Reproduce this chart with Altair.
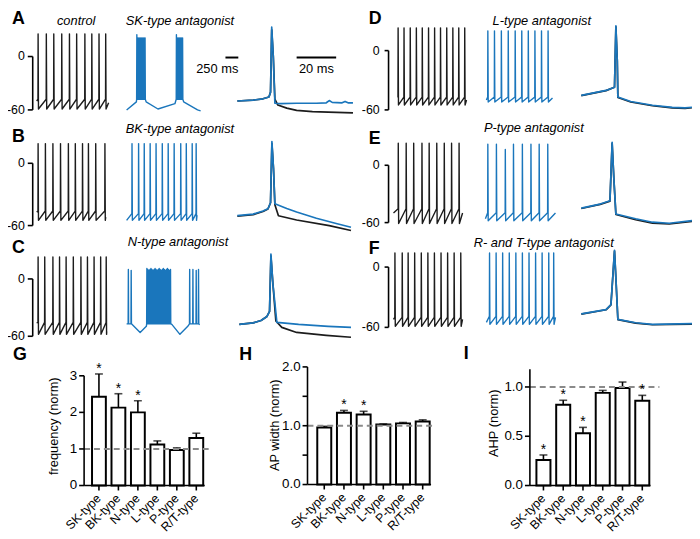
import altair as alt
import pandas as pd

# ---------------- bar-chart data ----------------
CATS = ["SK-type", "BK-type", "N-type", "L-type", "P-type", "R/T-type"]
FREQ_MEAN = [2.43, 2.13, 2.00, 1.12, 0.97, 1.30]
FREQ_SEM = [0.62, 0.38, 0.32, 0.10, 0.06, 0.13]
FREQ_SIG = [1, 1, 1, 0, 0, 0]
WIDTH_MEAN = [0.97, 1.22, 1.19, 1.02, 1.04, 1.07]
WIDTH_SEM = [0.02, 0.04, 0.055, 0.01, 0.015, 0.03]
WIDTH_SIG = [0, 1, 1, 0, 0, 0]
AHP_MEAN = [0.26, 0.82, 0.53, 0.94, 0.99, 0.86]
AHP_SEM = [0.05, 0.045, 0.06, 0.025, 0.06, 0.055]
AHP_SIG = [1, 1, 1, 0, 0, 1]

# ---------------- long voltage traces (ms, mV) ----------------
# levels = [peak, threshold kink, trough, start, end]
A_CTRL_SPIKES = [25, 185, 330, 485, 635, 775, 935, 1070, 1210, 1340]
A_CTRL_DUR = 1400
A_CTRL_LEV = [25.5, -48, -59, -50, -52]

A_SK_BASE_T = [0, 190, 380, 610, 940, 1110, 1380, 1440]
A_SK_BASE_V = [-60, -51, -51, -59, -53, -51, -60, -61]
A_SK_BURST1 = [195, 215, 235, 255, 275, 295, 315, 335, 355]
A_SK_PEAKS1 = [24.5, 21, 21, 21, 21, 21, 21, 21, 21]
A_SK_BURST2 = [965, 985, 1005, 1025, 1045, 1065, 1085]
A_SK_PEAKS2 = [24.5, 21, 21, 21, 21, 21, 21]
A_SK_LOW = -48

B_CTRL_SPIKES = [25, 167, 313, 461, 614, 749, 889, 1004, 1146, 1325]
B_CTRL_DUR = 1344
B_CTRL_LEV = [19, -46, -55, -47, -52]
B_BK_SPIKES = [102, 230, 340, 455, 570, 691, 806, 922, 1050, 1158, 1273, 1350]
B_BK_DUR = 1370
B_BK_LEV = [19, -48.5, -55, -55, -50]

C_CTRL_SPIKES = [25, 154, 313, 442, 570, 710, 858, 985, 1114, 1242, 1350]
C_CTRL_DUR = 1363
C_CTRL_LEV = [23, -45.5, -58, -46, -55]
C_N_BASE_T = [0, 263, 384, 880, 1037, 1190, 1421]
C_N_BASE_V = [-47, -56, -49.6, -47.6, -58, -49.6, -48]
C_N_EARLY = [30, 85]
C_N_EARLY_PK = [10, 9]
C_N_BLOCK = [390, 410, 430, 450, 470, 490, 510, 530, 550, 570, 590, 610,
             630, 650, 670, 690, 710, 730, 750, 770, 790, 810, 830, 850]
C_N_BLOCK_PK = [11, 10, 9, 10, 11, 10, 9, 10, 11, 10, 9, 10,
                11, 10, 9, 10, 11, 10, 9, 10, 11, 10, 9, 10]
C_N_LATE = [1223, 1286, 1350, 1395]
C_N_LATE_PK = [10, 10, 9, 10]
C_N_LOW = -47

D_CTRL_SPIKES = [10, 125, 246, 365, 480, 602, 720, 835, 956, 1075, 1190, 1306]
D_CTRL_DUR = 1344
D_CTRL_LEV = [23, -47, -55, -47, -50]
D_L_SPIKES = [25, 154, 288, 422, 557, 685, 812, 941, 1069, 1197]
D_L_DUR = 1286
D_L_LEV = [20, -47, -52, -50, -48]

E_CTRL_SPIKES = [90, 244, 390, 551, 691, 839, 985, 1127, 1273]
E_CTRL_DUR = 1344
E_CTRL_LEV = [23, -45.5, -61, -50, -50]
E_P_SPIKES = [44, 211, 384, 543, 716, 883, 1043, 1210]
E_P_PEAKS = [22, 22, 16.5, 22, 22, 22, 22, 22]
E_P_DUR = 1363
E_P_LEV = [22, -49.6, -58, -56, -50]

F_CTRL_SPIKES = [25, 167, 282, 409, 538, 666, 793, 922, 1050, 1177, 1306]
F_CTRL_DUR = 1344
F_CTRL_LEV = [14, -50, -59, -52, -52]
F_RT_SPIKES = [58, 186, 313, 442, 570, 697, 826, 954, 1081, 1210, 1306]
F_RT_DUR = 1344
F_RT_LEV = [14, -49, -57, -55, -50]

# ---------------- single-spike overlays (ms, mV) ----------------
A_Z_CTRL_T = [0, 8, 13, 16, 16.8, 17.4, 18.2, 19, 20.5, 25, 30, 38, 46, 58.5]
A_Z_CTRL_V = [-50, -49, -47.5, -45.5, -40, 30, 0, -48, -54.5, -58, -60.5, -62, -62.5, -63.3]
A_Z_DRUG_T = [0, 8, 13, 16, 16.8, 17.4, 18.2, 19, 22, 30, 40, 45, 46.5, 48, 53, 54.5, 56, 58.5]
A_Z_DRUG_V = [-50, -49, -47.5, -45.5, -40, 33, 0, -52.5, -53, -52.5, -52.5, -52, -49.5, -51.5, -52, -50.5, -52, -52]

B_Z_CTRL_T = [0, 8, 13, 15.5, 16.8, 17.5, 18.3, 19, 20.8, 30, 46.5, 57.5]
B_Z_CTRL_V = [-51, -49.5, -46.5, -44, -38, 19, -5, -40, -50.5, -54.6, -60, -64.8]
B_Z_DRUG_T = [0, 8, 13, 15.5, 16.8, 17.5, 18.3, 19, 25, 30, 40, 50, 57.5]
B_Z_DRUG_V = [-50.5, -49, -46, -43.8, -38, 21, -5, -39, -43.5, -47, -53, -58, -61.6]

C_Z_CTRL_T = [0, 7, 11, 14, 15.3, 16, 17, 18.5, 21.5, 29, 44, 56.5]
C_Z_CTRL_V = [-47.6, -46, -43.5, -39.3, -34, 24, -5, -44, -50.7, -56, -59, -61]
C_Z_DRUG_T = [0, 7, 11, 14, 15.3, 16, 17, 19, 30, 45, 56.5]
C_Z_DRUG_V = [-47.6, -46, -43.5, -39.3, -34, 26, -5, -45.5, -47.6, -49.6, -50.7]

D_Z_T = [0, 12.5, 16.8, 17.5, 18.2, 18.5, 25, 36, 46, 52.5, 56]
D_Z_CTRL_V = [-45.5, -40.5, -37, 24, -10, -47.5, -52, -55.8, -58, -58.5, -57.8]
D_Z_DRUG_V = [-45.3, -40.3, -37, 25, -10, -47, -51.5, -55.3, -57.5, -58, -57.3]

E_Z_T = [0, 9.5, 14.5, 15.6, 16.5, 17.5, 27.5, 36, 44.5, 56]
E_Z_CTRL_V = [-45.2, -41, -37.5, 23, -15, -51.5, -57, -60.5, -61.5, -58.8]
E_Z_DRUG_V = [-44.8, -40.6, -37.2, 24, -15, -51, -56, -59.6, -60.7, -58]

F_Z_T = [0, 12.5, 15, 16.8, 17.6, 18.5, 27.5, 36, 56]
F_Z_CTRL_V = [-46.8, -42.5, -37.6, 16, -15, -52.3, -55.8, -57.4, -56.7]
F_Z_DRUG_V = [-46.5, -42.3, -37.4, 16.7, -15, -52, -55.4, -57, -56.3]

# ---------------- layout / style ----------------
OFF = 8
MS_PER_PX = 250 / 13
BLACK = "#1c1c1c"
BLUE = "#1a76bc"
FONT = "Liberation Sans"
# pixel rows of the 0 mV and -60 mV bracket ticks
ROWS = {"A": (54, 108), "B": (162, 225), "C": (279, 337),
        "D": (48, 108), "E": (164, 222), "F": (267, 328)}
ONE = pd.DataFrame({"k": [0]})


def P(v):
    return v - OFF


def yscale(row):
    y0, y60 = ROWS[row]
    return alt.Scale(domain=[-60, 0], range=[P(y60), P(y0)])


def train_points(spikes, dur, lev, peaks=None):
    peak, kink, trough, v0, vend = lev
    t, v = [0], [v0]
    for k, s in enumerate(spikes):
        pk = peaks[k] if peaks is not None else peak
        t += [s, s + 3, s + 10]
        v += [kink, pk, trough]
    t.append(dur)
    v.append(vend)
    return t, v


def burst_points(base_t, base_v, groups, low):
    pts = list(zip(base_t, base_v))
    for spikes, peaks in groups:
        for s, pk in zip(spikes, peaks):
            pts += [(s, low), (s + 4, pk), (s + 9, low)]
    pts.sort()
    return [p[0] for p in pts], [p[1] for p in pts]


def line(t, v, color, xs, ys, width):
    df = pd.DataFrame({"t": t, "v": v, "i": list(range(len(t)))})
    return alt.Chart(df).mark_line(color=color, strokeWidth=width, strokeJoin="round").encode(
        x=alt.X("t:Q", scale=xs, axis=None),
        y=alt.Y("v:Q", scale=ys, axis=None),
        order="i:Q",
    )


def long_trace(tv, x0, row, color):
    t, v = tv
    dur = t[-1]
    xs = alt.Scale(domain=[0, dur], range=[P(x0), P(x0 + dur / MS_PER_PX)])
    return line(t, v, color, xs, yscale(row), 1.4)


def overlay(row, x0, x1, t_ctrl, v_ctrl, t_drug, v_drug):
    dmax = max(t_ctrl[-1], t_drug[-1])
    xs = alt.Scale(domain=[0, dmax], range=[P(x0), P(x1)])
    ys = yscale(row)
    return alt.layer(line(t_ctrl, v_ctrl, BLACK, xs, ys, 1.7),
                     line(t_drug, v_drug, BLUE, xs, ys, 1.7))


def bracket(row, xv, xt, xl):
    ys = yscale(row)
    d = pd.DataFrame({"v": [0, -60], "lab": ["0", "-60"]})
    seg = pd.DataFrame({"a": [-60], "b": [0]})
    vline = alt.Chart(seg).mark_rule(color="black", strokeWidth=1.6).encode(
        x=alt.value(P(xv)), y=alt.Y("a:Q", scale=ys, axis=None), y2="b:Q")
    ticks = alt.Chart(d).mark_rule(color="black", strokeWidth=1.6).encode(
        x=alt.value(P(xt)), x2=alt.value(P(xv)), y=alt.Y("v:Q", scale=ys, axis=None))
    labs = alt.Chart(d).mark_text(align="right", baseline="middle", fontSize=12.5, font=FONT,
                                  color="black").encode(
        x=alt.value(P(xl)), y=alt.Y("v:Q", scale=ys, axis=None), text="lab:N")
    return alt.layer(vline, ticks, labs)


def label(s, x, y, size=13, weight="normal", style="normal", align="center",
          baseline="middle", angle=0):
    kw = dict(text=s, fontSize=size, font=FONT, fontWeight=weight, fontStyle=style,
              align=align, baseline=baseline, color="black")
    if angle:
        kw["angle"] = angle
    return alt.Chart(ONE).mark_text(**kw).encode(x=alt.value(P(x)), y=alt.value(P(y)))


def scalebar(length, x0, px, y, text, tx, talign):
    d = pd.DataFrame({"a": [0], "b": [length]})
    xs = alt.Scale(domain=[0, length], range=[P(x0), P(x0 + px)])
    bar = alt.Chart(d).mark_rule(color="black", strokeWidth=2).encode(
        x=alt.X("a:Q", scale=xs, axis=None), x2="b:Q", y=alt.value(P(y)))
    return alt.layer(bar, label(text, tx, y + 12, size=13, align=talign))


def bar_panel(means, sems, sigs, ydom, ypix, xpix, ax_x, ax_xend, ytop,
              tick_vals, lab_vals, lab_txt, dash_end, title, tpos):
    df = pd.DataFrame({"cat": CATS, "mean": means,
                       "top": [m + s for m, s in zip(means, sems)], "sig": sigs})
    xs = alt.Scale(domain=CATS, range=[P(xpix[0]), P(xpix[1])],
                   paddingInner=0.29, paddingOuter=0.145)
    ys = alt.Scale(domain=ydom, range=[P(ypix[0]), P(ypix[1])])
    X = alt.X("cat:N", scale=xs, axis=None, sort=CATS)
    base = alt.Chart(df)
    bars = base.mark_bar(fill="white", stroke="black", strokeWidth=2).encode(
        x=X, y=alt.Y("mean:Q", scale=ys, axis=None))
    err = base.mark_rule(color="black", strokeWidth=1.6).encode(
        x=X, y=alt.Y("mean:Q", scale=ys, axis=None), y2="top:Q")
    cap = base.mark_tick(color="black", thickness=1.6, size=8).encode(
        x=X, y=alt.Y("top:Q", scale=ys, axis=None))
    stars = base.transform_filter("datum.sig == 1").mark_text(
        text="*", fontSize=14, font=FONT, baseline="alphabetic", dy=-1, color="black").encode(
        x=X, y=alt.Y("top:Q", scale=ys, axis=None))
    dash = alt.Chart(pd.DataFrame({"r": [1]})).mark_rule(
        strokeDash=[6, 4], color="#8a8a8a", strokeWidth=2).encode(
        x=alt.value(P(ax_x)), x2=alt.value(P(dash_end)), y=alt.Y("r:Q", scale=ys, axis=None))
    yline = alt.Chart(pd.DataFrame({"a": [ydom[0]], "b": [ytop]})).mark_rule(
        color="black", strokeWidth=1.6).encode(
        x=alt.value(P(ax_x)), y=alt.Y("a:Q", scale=ys, axis=None), y2="b:Q")
    yt = alt.Chart(pd.DataFrame({"v": tick_vals})).mark_rule(color="black", strokeWidth=1.6).encode(
        x=alt.value(P(ax_x - 5)), x2=alt.value(P(ax_x)), y=alt.Y("v:Q", scale=ys, axis=None))
    yl = alt.Chart(pd.DataFrame({"v": lab_vals, "t": lab_txt})).mark_text(
        align="right", baseline="middle", fontSize=13.5, font=FONT, color="black").encode(
        x=alt.value(P(ax_x - 7)), y=alt.Y("v:Q", scale=ys, axis=None), text="t:N")
    xline = alt.Chart(pd.DataFrame({"z": [0]})).mark_rule(color="black", strokeWidth=1.6).encode(
        x=alt.value(P(ax_x)), x2=alt.value(P(ax_xend)), y=alt.Y("z:Q", scale=ys, axis=None))
    xt = base.mark_rule(color="black", strokeWidth=1.6).encode(
        x=X, y=alt.value(P(ypix[0])), y2=alt.value(P(ypix[0] + 5)))
    xl = base.mark_text(angle=315, align="right", baseline="middle", fontSize=12.5,
                        font=FONT, color="black").encode(
        x=X, y=alt.value(P(ypix[0] + 11)), text="cat:N")
    ttl = label(title, tpos[0], tpos[1], size=13, angle=270)
    return alt.layer(bars, err, cap, dash, yline, yt, yl, xline, xt, xl, stars, ttl)


layers = []

# ----- brackets -----
for r in ["A", "B", "C"]:
    layers.append(bracket(r, 33, 28, 25))
for r in ["D", "E", "F"]:
    layers.append(bracket(r, 393, 389, 384))

# ----- long traces -----
layers.append(long_trace(train_points(A_CTRL_SPIKES, A_CTRL_DUR, A_CTRL_LEV), 37, "A", BLACK))
layers.append(long_trace(burst_points(A_SK_BASE_T, A_SK_BASE_V,
                                      [(A_SK_BURST1, A_SK_PEAKS1), (A_SK_BURST2, A_SK_PEAKS2)],
                                      A_SK_LOW), 128, "A", BLUE))
layers.append(long_trace(train_points(B_CTRL_SPIKES, B_CTRL_DUR, B_CTRL_LEV), 37, "B", BLACK))
layers.append(long_trace(train_points(B_BK_SPIKES, B_BK_DUR, B_BK_LEV), 128, "B", BLUE))
layers.append(long_trace(train_points(C_CTRL_SPIKES, C_CTRL_DUR, C_CTRL_LEV), 37, "C", BLACK))
layers.append(long_trace(burst_points(C_N_BASE_T, C_N_BASE_V,
                                      [(C_N_EARLY, C_N_EARLY_PK), (C_N_BLOCK, C_N_BLOCK_PK),
                                       (C_N_LATE, C_N_LATE_PK)], C_N_LOW), 128, "C", BLUE))
layers.append(long_trace(train_points(D_CTRL_SPIKES, D_CTRL_DUR, D_CTRL_LEV), 402, "D", BLACK))
layers.append(long_trace(train_points(D_L_SPIKES, D_L_DUR, D_L_LEV), 492, "D", BLUE))
layers.append(long_trace(train_points(E_CTRL_SPIKES, E_CTRL_DUR, E_CTRL_LEV), 398, "E", BLACK))
layers.append(long_trace(train_points(E_P_SPIKES, E_P_DUR, E_P_LEV, E_P_PEAKS), 491, "E", BLUE))
layers.append(long_trace(train_points(F_CTRL_SPIKES, F_CTRL_DUR, F_CTRL_LEV), 398, "F", BLACK))
layers.append(long_trace(train_points(F_RT_SPIKES, F_RT_DUR, F_RT_LEV), 492, "F", BLUE))

# ----- overlays -----
layers.append(overlay("A", 240, 357, A_Z_CTRL_T, A_Z_CTRL_V, A_Z_DRUG_T, A_Z_DRUG_V))
layers.append(overlay("B", 240, 355, B_Z_CTRL_T, B_Z_CTRL_V, B_Z_DRUG_T, B_Z_DRUG_V))
layers.append(overlay("C", 242, 355, C_Z_CTRL_T, C_Z_CTRL_V, C_Z_DRUG_T, C_Z_DRUG_V))
layers.append(overlay("D", 588, 700, D_Z_T, D_Z_CTRL_V, D_Z_T, D_Z_DRUG_V))
layers.append(overlay("E", 588, 700, E_Z_T, E_Z_CTRL_V, E_Z_T, E_Z_DRUG_V))
layers.append(overlay("F", 588, 700, F_Z_T, F_Z_CTRL_V, F_Z_T, F_Z_DRUG_V))

# ----- scale bars -----
layers.append(scalebar(250, 228, 250 / MS_PER_PX, 55, "250 ms", 241, "right"))
layers.append(scalebar(20, 300, 40, 55, "20 ms", 320, "center"))

# ----- bar charts -----
layers.append(bar_panel(FREQ_MEAN, FREQ_SEM, FREQ_SIG, [0, 3], (488, 377), (90.15, 208.35),
                        85, 207, 3, [0, 1, 2, 3], [0, 1, 2, 3], ["0", "1", "2", "3"],
                        213, "frequency (norm)", (55, 428)))
layers.append(bar_panel(WIDTH_MEAN, WIDTH_SEM, WIDTH_SIG, [0, 2], (487, 368), (318, 437.5),
                        311, 436, 2, [0, 0.5, 1, 1.5, 2], [0, 1, 2], ["0.0", "1.0", "2.0"],
                        440, "AP width (norm)", (278, 427)))
layers.append(bar_panel(AHP_MEAN, AHP_SEM, AHP_SIG, [0, 1], (488, 388.3), (539.7, 659.7),
                        536, 658, 1.18, [0, 0.5, 1], [0, 0.5, 1], ["0.0", "0.5", "1.0"],
                        667, "AHP (norm)", (500, 425)))

# ----- panel letters and titles -----
for s, x, y in [("A", 12, 16), ("B", 12, 135), ("C", 12, 248), ("D", 373, 16),
                ("E", 373, 137.5), ("F", 373, 249), ("G", 13, 356), ("H", 242, 356),
                ("I", 469, 355)]:
    layers.append(label(s, x, y, size=18, weight="bold", align="left"))
for s, x, y in [("control", 77, 18), ("SK-type antagonist", 182, 18),
                ("BK-type antagonist", 182, 127), ("N-type antagonist", 180, 242),
                ("L-type antagonist", 548, 18), ("P-type antagonist", 540, 126),
                ("R- and T-type antagonist", 550, 243)]:
    layers.append(label(s, x, y, size=13, style="italic"))

chart = alt.layer(*layers).resolve_scale(x="independent", y="independent").properties(
    width=692, height=531, padding=0,
    autosize=alt.AutoSizeParams(type="none"),
).configure_view(strokeWidth=0)

chart.save("out.html", embed_options={"renderer": "svg", "actions": False})
